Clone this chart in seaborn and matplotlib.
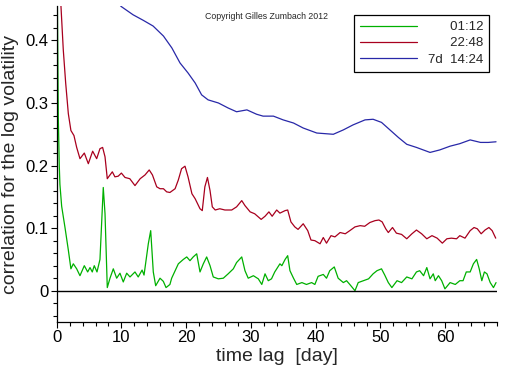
import pandas as pd
import numpy as np
import matplotlib.pyplot as plt
import seaborn as sns
from matplotlib.ticker import MultipleLocator, FuncFormatter

# -----------------------------------
# DATA
# -----------------------------------

# lag 01:12
green_x = [0.0, 0.15, 0.25, 0.4, 0.5, 0.77, 1.0, 1.3, 1.8, 2.2, 2.57, 3.09, 3.6, 4.27,
           4.79, 5.15, 5.5, 5.81, 6.23, 6.69, 7.2, 7.47, 7.82, 8.24, 8.75, 9.27, 9.78,
           10.29, 10.82, 11.33, 12.1, 12.6, 13.2, 13.5, 14.16, 14.53, 14.93, 15.3, 15.97,
           16.48, 16.9, 17.5, 17.77, 18.8, 19.57, 20.1, 20.6, 21.1, 21.64, 22.15, 22.66,
           23.18, 23.7, 24.2, 24.98, 25.75, 26.5, 27.3, 27.8, 28.6, 29.1, 29.6, 30.4,
           31.16, 31.7, 32.2, 32.7, 33.2, 33.7, 34.5, 34.8, 35.3, 35.7, 36.05, 36.6,
           37.1, 37.9, 38.6, 39.4, 39.9, 40.4, 41.2, 41.7, 42.2, 42.9, 43.5, 44.3, 44.8,
           45.3, 46.1, 46.6, 47.4, 48.2, 48.9, 49.5, 50.2, 50.7, 51.25, 51.8, 52.6, 53.3,
           54.1, 54.9, 55.6, 56.1, 56.7, 57.2, 57.7, 58.2, 58.5, 59.0, 59.5, 60.0, 60.8,
           61.6, 62.3, 62.8, 63.3, 63.9, 64.4, 64.9, 65.3, 65.7, 66.1, 66.5, 67.0, 67.5,
           67.9]
green_y = [0.62, 0.40, 0.277, 0.2, 0.17, 0.135, 0.12, 0.10, 0.065, 0.035, 0.043, 0.035,
           0.024, 0.04, 0.03, 0.037, 0.03, 0.04, 0.03, 0.05, 0.165, 0.123, 0.005, 0.02,
           0.035, 0.02, 0.028, 0.014, 0.028, 0.022, 0.03, 0.022, 0.033, 0.025, 0.075,
           0.096, 0.03, 0.008, 0.02, 0.015, 0.005, 0.01, 0.02, 0.043, 0.05, 0.054, 0.048,
           0.054, 0.059, 0.03, 0.043, 0.054, 0.04, 0.022, 0.019, 0.02, 0.027, 0.035,
           0.045, 0.054, 0.032, 0.02, 0.024, 0.019, 0.01, 0.027, 0.016, 0.019, 0.03,
           0.043, 0.04, 0.05, 0.056, 0.032, 0.02, 0.01, 0.013, 0.01, 0.013, 0.01, 0.023,
           0.026, 0.02, 0.032, 0.038, 0.02, 0.013, 0.016, 0.01, 0.0, 0.013, 0.016, 0.019,
           0.027, 0.032, 0.035, 0.025, 0.013, 0.005, 0.016, 0.013, 0.022, 0.019, 0.03,
           0.032, 0.024, 0.037, 0.019, 0.027, 0.016, 0.024, 0.016, 0.003, 0.013, 0.01,
           0.016, 0.016, 0.03, 0.03, 0.043, 0.05, 0.035, 0.016, 0.03, 0.027, 0.013,
           0.005, 0.013]

# lag 22:48
red_x = [0.0, 0.4, 0.66, 1.02, 1.39, 1.8, 2.2, 2.67, 3.09, 3.6, 4.27, 4.89, 5.56, 6.18,
         6.69, 7.1, 7.47, 7.82, 8.24, 8.6, 9.0, 9.5, 10.0, 10.56, 11.3, 12.1, 12.9, 13.65,
         14.3, 14.8, 15.46, 15.97, 16.5, 17.0, 17.5, 18.3, 18.8, 19.3, 19.83, 20.3, 20.9,
         21.4, 22.15, 22.5, 22.9, 23.3, 23.7, 24.05, 24.5, 25.2, 26.0, 27.05, 27.8, 28.6,
         29.1, 29.9, 30.6, 31.6, 32.2, 32.8, 33.3, 34.0, 34.5, 35.3, 35.7, 36.2, 36.8,
         37.3, 38.1, 38.8, 39.3, 39.9, 40.7, 41.2, 41.7, 42.4, 43.0, 43.8, 44.6, 45.3,
         46.1, 46.9, 47.6, 48.4, 49.2, 49.8, 50.3, 50.85, 51.25, 51.9, 52.5, 53.3, 54.1,
         54.9, 55.6, 56.4, 57.2, 58.0, 58.8, 59.6, 60.3, 61.0, 61.8, 62.3, 63.1, 63.9,
         64.5, 65.0, 65.6, 66.2, 66.8, 67.3, 67.85]
red_y = [0.62, 0.52, 0.455, 0.385, 0.332, 0.283, 0.256, 0.248, 0.229, 0.211, 0.22, 0.203,
         0.223, 0.211, 0.227, 0.229, 0.214, 0.179, 0.185, 0.19, 0.182, 0.183, 0.188,
         0.181, 0.179, 0.168, 0.179, 0.185, 0.193, 0.185, 0.166, 0.163, 0.163, 0.158,
         0.157, 0.163, 0.177, 0.195, 0.199, 0.182, 0.155, 0.147, 0.131, 0.128, 0.166,
         0.181, 0.16, 0.134, 0.129, 0.131, 0.129, 0.129, 0.134, 0.144, 0.136, 0.126,
         0.123, 0.114, 0.119, 0.126, 0.119, 0.129, 0.124, 0.128, 0.129, 0.11, 0.102,
         0.098, 0.107, 0.096, 0.081, 0.08, 0.075, 0.085, 0.076, 0.088, 0.086, 0.093,
         0.091, 0.096, 0.102, 0.104, 0.103, 0.109, 0.112, 0.113, 0.11, 0.099, 0.093,
         0.101, 0.092, 0.09, 0.083, 0.091, 0.097, 0.091, 0.083, 0.088, 0.084, 0.076,
         0.083, 0.084, 0.083, 0.088, 0.084, 0.096, 0.101, 0.099, 0.091, 0.097, 0.101,
         0.096, 0.084]

# lag 7d 14:24
blue_x = [8.0, 10.0, 11.8, 13.4, 14.9, 16.5, 17.8, 19.06, 20.3, 21.4, 22.4, 23.4, 25.0,
          26.5, 27.8, 29.4, 30.9, 31.9, 33.5, 35.0, 36.6, 38.1, 40.2, 42.75, 44.3, 45.8,
          47.65, 48.9, 50.2, 51.5, 52.8, 54.1, 55.6, 57.7, 59.2, 60.8, 62.3, 63.9, 65.5,
          66.7, 67.9]
blue_y = [0.475, 0.454, 0.441, 0.432, 0.423, 0.407, 0.388, 0.364, 0.348, 0.332, 0.313,
          0.305, 0.30, 0.292, 0.286, 0.289, 0.282, 0.279, 0.279, 0.273, 0.268, 0.26,
          0.252, 0.25, 0.257, 0.265, 0.273, 0.274, 0.269, 0.257, 0.245, 0.234, 0.229,
          0.221, 0.225, 0.231, 0.235, 0.241, 0.237, 0.237, 0.238]

labels = ["\u2007\u2007\u200701:12", "\u2007\u2007\u200722:48", "7d  14:24"]
colors = ["#00b000", "#a8001e", "#2828a8"]

# -----------------------------------
# PLOT
# -----------------------------------

sns.set_style("ticks")
plt.rcParams['font.family'] = ['Liberation Sans', 'DejaVu Sans']

fig = plt.figure(figsize=(5.12, 3.66), dpi=100)
ax = fig.add_axes([0.1107, 0.1202, 0.8594, 0.8634])

series = [(green_x, green_y), (red_x, red_y), (blue_x, blue_y)]
for (xs, ys), lab, col in zip(series, labels, colors):
    d = pd.DataFrame({"lag": xs, "corr": ys})
    sns.lineplot(data=d, x="lag", y="corr", ax=ax, color=col, lw=0.9,
                 label=lab, estimator=None, sort=False)

ax.axhline(0, color="black", lw=1)

ax.set_xlim(0, 68)
ax.set_ylim(-0.05, 0.455)
ax.xaxis.set_major_locator(MultipleLocator(10))
ax.xaxis.set_minor_locator(MultipleLocator(2))
ax.yaxis.set_major_locator(MultipleLocator(0.1))
ax.yaxis.set_minor_locator(MultipleLocator(0.02))
ax.yaxis.set_major_formatter(FuncFormatter(lambda v, p: f"{round(v, 3):g}"))
ax.xaxis.set_major_formatter(FuncFormatter(lambda v, p: f"{v:g}"))

ax.tick_params(which="major", direction="out", length=4, width=0.8, pad=2,
               labelsize=12, colors="black")
ax.tick_params(which="minor", direction="out", length=3, width=0.8, colors="black")

sns.despine(ax=ax)
for s in ["left", "bottom"]:
    ax.spines[s].set_color("black")
    ax.spines[s].set_linewidth(0.9)

ax.set_xlabel("time lag  [day]", fontsize=14)
ax.set_ylabel("correlation for the log volatility", fontsize=14)
ax.xaxis.set_label_coords(0.5, -0.082)
ax.yaxis.set_label_coords(-0.085, 0.5)

leg = ax.legend(loc="upper right", bbox_to_anchor=(0.9825, 0.9715), borderaxespad=0,
                fontsize=9.5, handlelength=4.3, labelspacing=0.3, borderpad=0.45,
                fancybox=False, framealpha=1, edgecolor="black")
leg.get_frame().set_linewidth(0.9)

fig.text(0.52, 0.956, "Copyright Gilles Zumbach 2012", fontsize=6.3,
         ha="center", va="center")

plt.savefig("out.png", dpi=100)
